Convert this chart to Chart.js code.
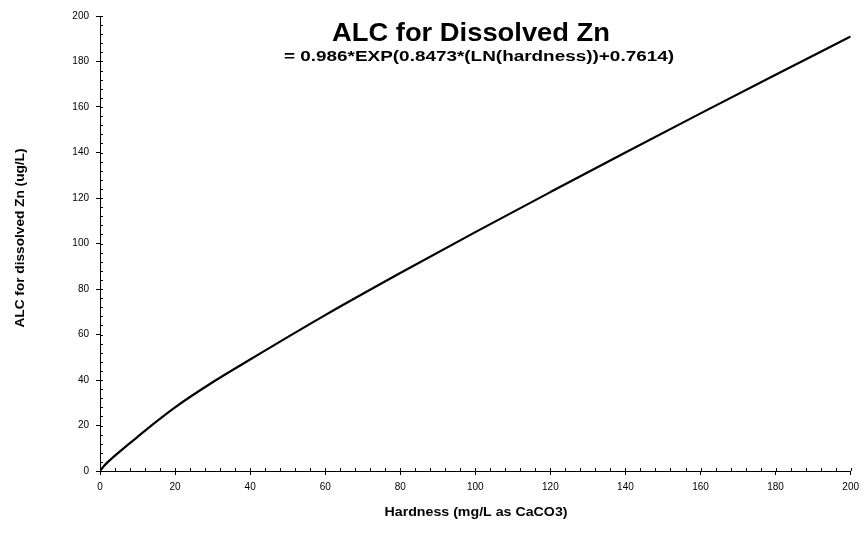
<!DOCTYPE html>
<html>
<head>
<meta charset="utf-8">
<script src="https://cdn.jsdelivr.net/npm/chart.js@4/dist/chart.umd.min.js"></script>
<style>
  html, body { margin: 0; padding: 0; background: #fff; }
  #wrap { width: 865px; height: 556px; }
</style>
</head>
<body>
<div id="wrap"><canvas id="c" width="865" height="556"></canvas></div>
<script>
// Hardness (mg/L as CaCO3) and the acute limit for dissolved zinc (ug/L)
const hardness = [0, 1, 2, 5, 10, 15, 20, 30, 40, 60, 80, 100, 120, 140, 160, 180, 200];
const alcZn    = [0, 2.1, 3.8, 8.2, 15, 21.7, 28, 39, 49, 68.5, 87, 105, 122.6, 140, 157.2, 174.2, 191];

const xTickValues = [0, 20, 40, 60, 80, 100, 120, 140, 160, 180, 200];
const yTickValues = [0, 20, 40, 60, 80, 100, 120, 140, 160, 180, 200];
const minorStep = 4;

const chartTitle = 'ALC for Dissolved Zn';
const chartSubtitle = '= 0.986*EXP(0.8473*(LN(hardness))+0.7614)';
const xTitle = 'Hardness (mg/L as CaCO3)';
const yTitle = 'ALC for dissolved Zn (ug/L)';

const FONT = 'Arial, "Liberation Sans", sans-serif';

// Draw text stretched horizontally to a given width
function fitText(ctx, text, cx, cy, font, width, rot) {
  ctx.save();
  ctx.font = font;
  ctx.fillStyle = '#000';
  ctx.textAlign = 'center';
  ctx.textBaseline = 'middle';
  const w = ctx.measureText(text).width;
  ctx.translate(cx, cy);
  if (rot) ctx.rotate(rot);
  ctx.scale(width / w, 1);
  ctx.fillText(text, 0, 0);
  ctx.restore();
}

const decorations = {
  id: 'decorations',
  afterDraw(chart) {
    const { ctx, scales: { x, y }, chartArea } = chart;
    ctx.save();
    ctx.strokeStyle = '#000';
    ctx.lineWidth = 1;
    ctx.beginPath();
    // inner parts of major ticks
    xTickValues.forEach(v => {
      const px = Math.round(x.getPixelForValue(v)) + 0.5;
      ctx.moveTo(px, chartArea.bottom);
      ctx.lineTo(px, chartArea.bottom - 3);
    });
    yTickValues.forEach(v => {
      const py = Math.round(y.getPixelForValue(v)) + 0.5;
      ctx.moveTo(chartArea.left, py);
      ctx.lineTo(chartArea.left + 3, py);
    });
    // minor ticks pointing into the plot
    for (let v = minorStep; v < 200; v += minorStep) {
      if (v % 20 === 0) continue;
      const px = Math.round(x.getPixelForValue(v)) + 0.5;
      ctx.moveTo(px, chartArea.bottom);
      ctx.lineTo(px, chartArea.bottom - 3);
      const py = Math.round(y.getPixelForValue(v)) + 0.5;
      ctx.moveTo(chartArea.left, py);
      ctx.lineTo(chartArea.left + 3, py);
    }
    ctx.stroke();
    ctx.restore();

    fitText(ctx, chartTitle, 471, 34, 'bold 26px ' + FONT, 278);
    fitText(ctx, chartSubtitle, 479, 57, 'bold 14px ' + FONT, 390);
    fitText(ctx, xTitle, 476, 513, 'bold 12px ' + FONT, 183);
    fitText(ctx, yTitle, 21, 238, 'bold 12px ' + FONT, 179, -Math.PI / 2);
  }
};

new Chart(document.getElementById('c'), {
  type: 'line',
  data: {
    datasets: [{
      data: hardness.map((h, i) => ({ x: h, y: alcZn[i] })),
      borderColor: '#000',
      borderWidth: 2.2,
      pointRadius: 0,
      cubicInterpolationMode: 'monotone',
      fill: false
    }]
  },
  options: {
    responsive: false,
    animation: false,
    devicePixelRatio: 1,
    layout: { padding: { top: 16, right: 12, left: 0, bottom: 0 } },
    plugins: { legend: { display: false }, tooltip: { enabled: false } },
    scales: {
      x: {
        type: 'linear',
        min: 0, max: 200,
        afterBuildTicks: s => { s.ticks = xTickValues.map(v => ({ value: v })); },
        afterFit: s => { s.height = 85; },
        ticks: { color: '#000', font: { family: FONT, size: 10 }, padding: 6, maxRotation: 0 },
        grid: { drawOnChartArea: false, drawTicks: true, tickLength: 4, color: '#000', tickColor: '#000' },
        border: { display: true, color: '#000', width: 1 }
      },
      y: {
        type: 'linear',
        min: 0, max: 200,
        afterBuildTicks: s => { s.ticks = yTickValues.map(v => ({ value: v })); },
        afterFit: s => { s.width = 100; },
        ticks: { color: '#000', font: { family: FONT, size: 10 }, padding: 7 },
        grid: { drawOnChartArea: false, drawTicks: true, tickLength: 4, color: '#000', tickColor: '#000' },
        border: { display: true, color: '#000', width: 1 }
      }
    }
  },
  plugins: [decorations]
});
</script>
</body>
</html>
